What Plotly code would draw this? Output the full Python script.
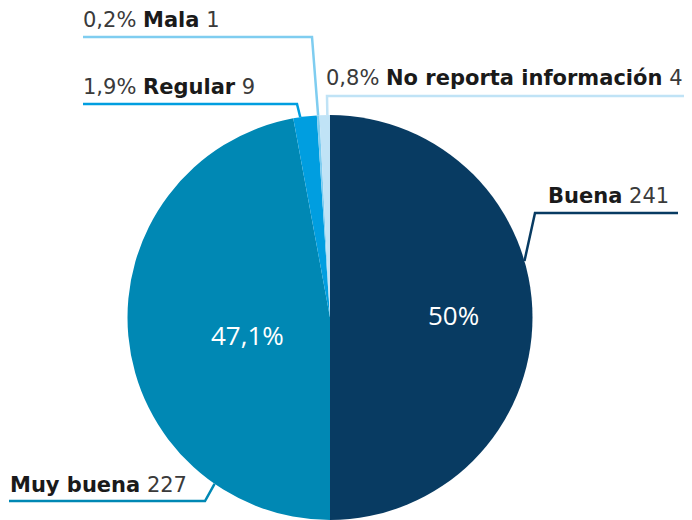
import math
import plotly.graph_objects as go

# ---- data ----
categories = ["Buena", "Muy buena", "Regular", "Mala", "No reporta información"]
counts = [241, 227, 9, 1, 4]
pct_labels = ["50%", "47,1%", "1,9%", "0,2%", "0,8%"]
colors = ["#083b62", "#0088b4", "#009ee0", "#7fcdf0", "#c0e3f6"]

W, H = 692, 520
OFF = 8  # page body margin in the browser
# pie placement (window pixels)
PIE_L, PIE_R, PIE_T, PIE_B = 127, 533, 115, 520


def px(x):
    return (x - OFF) / W


def py(y):
    return 1 - (y - OFF) / H


fig = go.Figure(go.Pie(
    labels=categories,
    values=counts,
    marker=dict(colors=colors, line=dict(width=0)),
    sort=False,
    direction="clockwise",
    rotation=0,
    textinfo="none",
    hoverinfo="label+value+percent",
    showlegend=False,
    domain=dict(x=[px(PIE_L), px(PIE_R)], y=[py(PIE_B), py(PIE_T)]),
))

# pie geometry for leader anchors (derived from data angles)
cx = (PIE_L + PIE_R) / 2
cy = (PIE_T + PIE_B) / 2
R = min(PIE_R - PIE_L, PIE_B - PIE_T) / 2
total = sum(counts)
starts = []
acc = 0
for v in counts:
    starts.append(acc)
    acc += v


def edge_point(i, frac):
    ang = 2 * math.pi * (starts[i] + frac * counts[i]) / total
    return cx + R * math.sin(ang), cy - R * math.cos(ang)


# leader layout: (slice index, fraction within slice, elbow, end x)
leaders = [
    (0, 0.41, (535, 213), 678),
    (1, 0.205, (205, 501), 9),
    (2, 0.30, (297, 104), 83),
    (3, 0.50, (312, 37), 83),
    (4, 0.75, (327, 96), 700),
]
for i, frac, (ex, ey), endx in leaders:
    sx, sy = edge_point(i, frac)
    fig.add_shape(
        type="path",
        xref="paper", yref="paper",
        path=f"M {px(sx)} {py(sy)} L {px(ex)} {py(ey)} L {px(endx)} {py(ey)}",
        line=dict(color=colors[i], width=2.5),
    )

LBL_FONT = dict(family="DejaVu Sans", size=21, color="#1a1a1a")
NUM = "<span style='color:#3a3a3a'>{}</span>"

# outside labels: (text, left x, baseline y)
outside = [
    (f"<b>{categories[0]}</b> " + NUM.format(counts[0]), 547, 203),
    (f"<b>{categories[1]}</b> " + NUM.format(counts[1]), 9, 492),
    (NUM.format(pct_labels[2]) + f" <b>{categories[2]}</b> " + NUM.format(counts[2]), 82, 94),
    (NUM.format(pct_labels[3]) + f" <b>{categories[3]}</b> " + NUM.format(counts[3]), 82, 27),
    (NUM.format(pct_labels[4]) + f" <b>{categories[4]}</b> " + NUM.format(counts[4]), 325, 85),
]
for text, lx, base in outside:
    fig.add_annotation(
        x=px(lx), y=py(base + 6), xref="paper", yref="paper",
        xanchor="left", yanchor="bottom", showarrow=False,
        text=text, font=LBL_FONT, borderpad=0,
    )

# inside percentage labels
inside = [(0, 453, 315), (1, 247, 335)]
for i, x, y in inside:
    fig.add_annotation(
        x=px(x), y=py(y), xref="paper", yref="paper",
        xanchor="center", yanchor="middle", showarrow=False,
        text=pct_labels[i],
        font=dict(family="Open Sans", size=26, color="white"),
    )

fig.update_layout(
    width=W, height=H,
    margin=dict(l=0, r=0, t=0, b=0),
    paper_bgcolor="white",
    plot_bgcolor="white",
)

fig.write_html("out.html")
